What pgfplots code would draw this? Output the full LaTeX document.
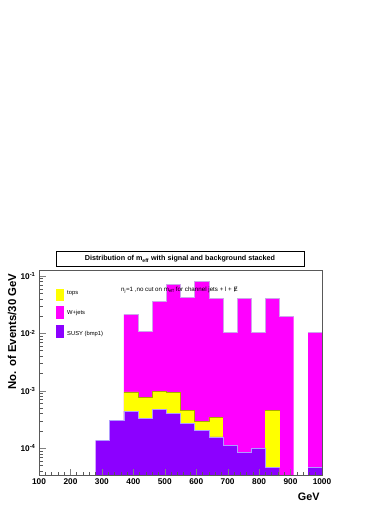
\documentclass[border=0pt]{standalone}
\usepackage{pgfplots}
\pgfplotsset{compat=1.18}
\usepackage{pgfplotstable}
\usepackage{fontspec}
\setmainfont{Liberation Sans}
\definecolor{rmag}{RGB}{255,0,255}
\definecolor{ryel}{RGB}{255,255,0}
\definecolor{rvio}{RGB}{140,0,255}
\definecolor{magline}{RGB}{205,165,235}
\definecolor{yelline}{RGB}{170,170,0}
\definecolor{violine}{RGB}{175,155,255}

% bin left edges (45 GeV bins), last row closes the interval
\pgfplotstableread{
x y
370 0.0215
415 0.0110
460 0.0357
505 0.0716
550 0.0419
595 0.0796
640 0.0408
685 0.01045
730 0.0410
775 0.0105
820 0.0410
865 0.0201
910 0.0201
}\wjetsA
\pgfplotstableread{
x y
955 0.0105
1000 0.0105
}\wjetsB
\pgfplotstableread{
x y
370 9.6e-4
415 7.58e-4
460 9.93e-4
505 9.27e-4
550 4.57e-4
595 2.94e-4
640 3.45e-4
685 3.45e-4
}\topsA
\pgfplotstableread{
x y
820 4.63e-4
865 4.63e-4
}\topsB
\pgfplotstableread{
x y
280 1.37e-4
325 3.06e-4
370 4.45e-4
415 3.27e-4
460 4.77e-4
505 3.99e-4
550 2.72e-4
595 2.02e-4
640 1.57e-4
685 1.12e-4
730 8.47e-5
775 9.95e-5
820 4.65e-5
865 4.65e-5
}\susyA
\pgfplotstableread{
x y
955 4.65e-5
1000 4.65e-5
}\susyB

\begin{document}
\begin{tikzpicture}
\fill[white] (0,0) rectangle (390pt,505pt);
\begin{axis}[
  at={(39pt,29.3pt)}, anchor=south west,
  scale only axis, width=283pt, height=205pt,
  xmin=100, xmax=1000,
  ymode=log, ymin=3.32e-5, ymax=0.124, log origin=infty,
  axis on top, tick align=inside, tick pos=left,
  major tick length=7pt, minor tick length=3.5pt,
  axis line style={gray!70!black, line width=0.7pt},
  minor tick style={gray!70!black, line width=0.5pt},
  xtick={100,200,...,1000}, minor x tick num=4,
  ytick={1e-4,1e-3,1e-2,1e-1},
  minor ytick={4e-5,5e-5,6e-5,7e-5,8e-5,9e-5,
    2e-4,3e-4,4e-4,5e-4,6e-4,7e-4,8e-4,9e-4,
    2e-3,3e-3,4e-3,5e-3,6e-3,7e-3,8e-3,9e-3,
    2e-2,3e-2,4e-2,5e-2,6e-2,7e-2,8e-2,9e-2},
  yticklabels={10\textsuperscript{-4},10\textsuperscript{-3},10\textsuperscript{-2},10\textsuperscript{-1}},
  /pgf/number format/assume math mode=true,
  /pgf/number format/1000 sep={},
  tick label style={font=\bfseries\fontsize{8.3}{9}\selectfont},
  xticklabel style={yshift=1pt},
]
\addplot[ybar interval, fill=rmag, draw=none] table {\wjetsA};
\addplot[ybar interval, fill=rmag, draw=none] table {\wjetsB};
\addplot[const plot, draw=magline, line width=0.6pt, no marks] table {\wjetsA};
\addplot[const plot, draw=magline, line width=0.6pt, no marks] table {\wjetsB};
\addplot[ybar interval, fill=ryel, draw=none] table {\topsA};
\addplot[ybar interval, fill=ryel, draw=none] table {\topsB};
\addplot[const plot, draw=yelline, line width=0.6pt, no marks] table {\topsA};
\addplot[const plot, draw=yelline, line width=0.6pt, no marks] table {\topsB};
\addplot[ybar interval, fill=rvio, draw=none] table {\susyA};
\addplot[ybar interval, fill=rvio, draw=none] table {\susyB};
\addplot[const plot, draw=violine, line width=0.6pt, no marks] table {\susyA};
\addplot[const plot, draw=violine, line width=0.6pt, no marks] table {\susyB};
\end{axis}
% title box
\node[draw, line width=0.9pt, minimum width=248pt, minimum height=15.4pt,
  font=\bfseries\fontsize{7.2}{8}\selectfont] at (180pt,246pt)
  {Distribution of m\textsubscript{eff} with signal and background stacked};
% axis titles
\node[rotate=90, anchor=east, font=\bfseries\fontsize{11.4}{13}\selectfont]
  at (12pt,235pt) {No. of Events/30 GeV};
\node[anchor=east, font=\bfseries\fontsize{10.8}{12}\selectfont]
  at (323pt,8pt) {GeV};
% legend
\fill[ryel] (56pt,204pt) rectangle (64pt,215.7pt);
\fill[rmag] (56pt,186.3pt) rectangle (64pt,198.7pt);
\fill[rvio] (56pt,167pt) rectangle (64pt,179.7pt);
\begin{scope}[every node/.style={anchor=west, inner sep=0pt, font=\fontsize{5.8}{7}\selectfont}]
\node at (67pt,212pt) {tops};
\node at (67pt,192.3pt) {W+jets};
\node at (67pt,171.3pt) {SUSY (bmp1)};
\node[font=\fontsize{6.2}{7}\selectfont] at (121pt,214.5pt)
  {n\textsubscript{j}=1 ,no cut on m\textsubscript{eff} for channel jets + l + Ɇ};
\end{scope}
\end{tikzpicture}
\end{document}
